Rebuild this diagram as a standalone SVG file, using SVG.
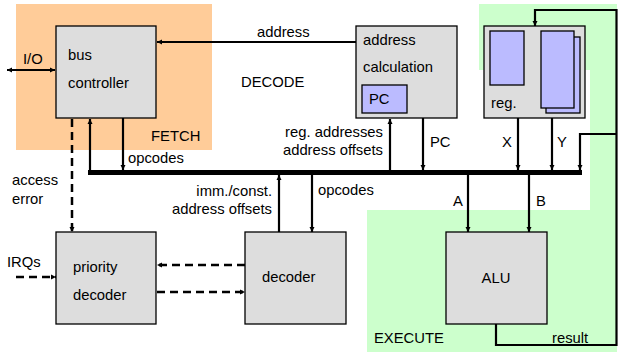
<svg xmlns="http://www.w3.org/2000/svg" width="618" height="352" viewBox="0 0 618 352">
  <style>
    text { font-family: "Liberation Sans", Arial, sans-serif; font-size: 14.8px; fill: #000; }
    .box { fill: #dddddd; stroke: #000; stroke-width: 1.3; }
    .reg { fill: #bbbbff; stroke: #000; stroke-width: 1.3; }
    .wire { fill: none; stroke: #000; stroke-width: 2.2; }
    .dash { fill: none; stroke: #000; stroke-width: 2.5; stroke-dasharray: 8 5; }
    .bus { fill: none; stroke: #000; stroke-width: 5; }
    .end { text-anchor: end; }
    .mid { text-anchor: middle; }
  </style>
  <defs>
    <marker id="arrow" markerUnits="userSpaceOnUse" markerWidth="6" markerHeight="6" refX="5" refY="3" orient="auto">
      <path d="M0,0.5 L5,3 L0,5.5 z" fill="#000"/>
    </marker>
    <marker id="arrowStart" markerUnits="userSpaceOnUse" markerWidth="6" markerHeight="6" refX="0" refY="3" orient="auto">
      <path d="M5,0.5 L0,3 L5,5.5 z" fill="#000"/>
    </marker>
  </defs>

  <!-- pipeline stage regions -->
  <g id="stage-fetch">
    <rect x="16" y="4" width="196" height="146" fill="#ffcc99"/>
    <text x="151" y="141">FETCH</text>
  </g>
  <g id="stage-execute">
    <path d="M479,4 H617 V352 H367 V210 H590 V70 H479 Z" fill="#ccffcc"/>
    <text x="374" y="343">EXECUTE</text>
  </g>
  <g id="stage-decode">
    <text x="241" y="87">DECODE</text>
  </g>

  <!-- connectors -->
  <g id="connectors">
    <line class="bus" x1="88" y1="172.5" x2="582" y2="172.5"/>
    <line class="wire" x1="7" y1="70" x2="55" y2="70" marker-start="url(#arrowStart)" marker-end="url(#arrow)"/>
    <line class="wire" x1="358" y1="42" x2="157" y2="42" marker-end="url(#arrow)"/>
    <line class="dash" x1="72" y1="119" x2="72" y2="232" marker-end="url(#arrow)"/>
    <line class="wire" x1="90" y1="170" x2="90" y2="119" marker-end="url(#arrow)"/>
    <line class="wire" x1="123" y1="118" x2="123" y2="170" marker-end="url(#arrow)"/>
    <line class="wire" x1="390" y1="170" x2="390" y2="119" marker-end="url(#arrow)"/>
    <line class="wire" x1="423" y1="118" x2="423" y2="170" marker-end="url(#arrow)"/>
    <line class="wire" x1="518" y1="118" x2="518" y2="170" marker-end="url(#arrow)"/>
    <line class="wire" x1="552" y1="118" x2="552" y2="170" marker-end="url(#arrow)"/>
    <path class="wire" d="M496,324 V345 H616.5 V10 H535 V26" marker-end="url(#arrow)"/>
    <path class="wire" d="M616.5,134 H580 V170" marker-end="url(#arrow)"/>
    <line class="wire" x1="468" y1="175" x2="468" y2="232" marker-end="url(#arrow)"/>
    <line class="wire" x1="529" y1="175" x2="529" y2="232" marker-end="url(#arrow)"/>
    <line class="wire" x1="279" y1="232" x2="279" y2="175" marker-end="url(#arrow)"/>
    <line class="wire" x1="312" y1="175" x2="312" y2="232" marker-end="url(#arrow)"/>
    <line class="dash" x1="245" y1="265" x2="157" y2="265" marker-end="url(#arrow)"/>
    <line class="dash" x1="157" y1="292" x2="245" y2="292" marker-end="url(#arrow)"/>
    <line class="dash" x1="16" y1="277" x2="56" y2="277" marker-end="url(#arrow)"/>
  </g>

  <!-- connector labels -->
  <g id="labels">
    <text x="23" y="64">I/O</text>
    <text x="257" y="37">address</text>
    <text x="128" y="163">opcodes</text>
    <text x="383" y="137" class="end">reg. addresses</text>
    <text x="383" y="155" class="end">address offsets</text>
    <text x="430" y="147">PC</text>
    <text x="502" y="147">X</text>
    <text x="557" y="147">Y</text>
    <text x="12" y="185">access</text>
    <text x="12" y="204">error</text>
    <text x="272" y="196" class="end">imm./const.</text>
    <text x="272" y="214" class="end">address offsets</text>
    <text x="318" y="195">opcodes</text>
    <text x="453" y="206">A</text>
    <text x="536" y="206">B</text>
    <text x="7" y="267">IRQs</text>
    <text x="552" y="343">result</text>
  </g>

  <!-- blocks -->
  <g id="bus-controller">
    <rect class="box" x="56" y="26" width="100" height="92"/>
    <text x="68" y="60">bus</text>
    <text x="68" y="88">controller</text>
  </g>
  <g id="address-calculation">
    <rect class="box" x="356" y="26" width="101" height="92"/>
    <text x="363" y="45">address</text>
    <text x="363" y="72">calculation</text>
    <rect class="reg" x="362" y="85" width="45" height="28"/>
    <text x="369" y="104">PC</text>
  </g>
  <g id="register-file">
    <rect class="box" x="484" y="26" width="101" height="92"/>
    <rect class="reg" x="490" y="31" width="34" height="54"/>
    <rect class="reg" x="546" y="37" width="34" height="76"/>
    <rect class="reg" x="541" y="31" width="33" height="77"/>
    <text x="491" y="108">reg.</text>
  </g>
  <g id="priority-decoder">
    <rect class="box" x="56" y="232" width="100" height="92"/>
    <text x="73" y="272">priority</text>
    <text x="73" y="300">decoder</text>
  </g>
  <g id="decoder">
    <rect class="box" x="245" y="232" width="101" height="92"/>
    <text x="262" y="282">decoder</text>
  </g>
  <g id="alu">
    <rect class="box" x="446" y="232" width="101" height="92"/>
    <text x="496" y="283" class="mid">ALU</text>
  </g>
</svg>
